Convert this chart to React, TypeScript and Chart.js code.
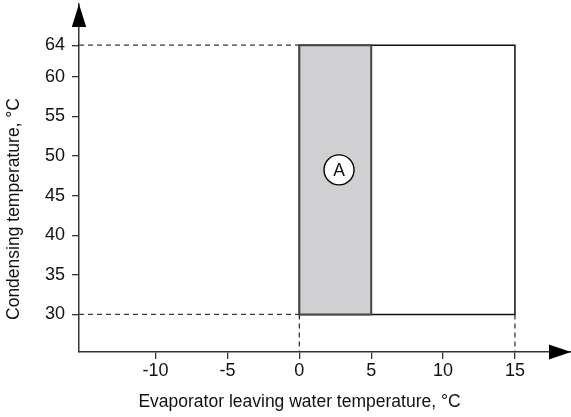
import React, { useEffect, useRef } from "react";
import { Chart, registerables } from "chart.js";

Chart.register(...registerables);

// ---- data ----
const xTicks = [-10, -5, 0, 5, 10, 15];
const yTicks = [30, 35, 40, 45, 50, 55, 60, 64];
const xRange = [-15.33, 18.9];
const yRange = [25.26, 69.2];
const envelopeX = [0, 15];
const envelopeY = [30, 64];
const zoneAX = [0, 5];
const zoneAY = [30, 64];
const zoneALabel = "A";
const zoneALabelPos = [2.76, 48.25];
const xTitle = "Evaporator leaving water temperature, °C";
const yTitle = "Condensing temperature, °C";

const FONT = '"Liberation Sans", Arial, Helvetica, sans-serif';

const rect = (xs: number[], ys: number[]) => [
  { x: xs[0], y: ys[0] },
  { x: xs[1], y: ys[0] },
  { x: xs[1], y: ys[1] },
  { x: xs[0], y: ys[1] },
  { x: xs[0], y: ys[0] },
];

const dashStyle = {
  showLine: true,
  pointRadius: 0,
  borderColor: "#3a3a3a",
  borderWidth: 1.3,
  borderDash: [5, 4],
  fill: false,
};

const zeroPad = (s: any) => {
  s.paddingLeft = 0;
  s.paddingRight = 0;
  s.paddingTop = 0;
  s.paddingBottom = 0;
};

const decorPlugin = {
  id: "decor",
  afterDatasetsDraw(chart: any) {
    const ctx = chart.ctx;
    const pt = chart.getDatasetMeta(0).data[0];
    if (!pt) return;
    ctx.save();
    ctx.font = `17.5px ${FONT}`;
    ctx.fillStyle = "#111";
    ctx.textAlign = "center";
    ctx.textBaseline = "middle";
    ctx.fillText(zoneALabel, pt.x, pt.y + 1);
    ctx.restore();
  },
  afterDraw(chart: any) {
    const { ctx, chartArea } = chart;
    const { left, right, top, bottom } = chartArea;
    ctx.save();
    ctx.fillStyle = "#000";
    // y-axis arrow
    ctx.beginPath();
    ctx.moveTo(left, top);
    ctx.lineTo(left - 7.2, top + 23);
    ctx.lineTo(left + 7.2, top + 23);
    ctx.closePath();
    ctx.fill();
    // x-axis arrow
    ctx.beginPath();
    ctx.moveTo(right, bottom);
    ctx.lineTo(right - 22, bottom - 7.5);
    ctx.lineTo(right - 22, bottom + 7.5);
    ctx.closePath();
    ctx.fill();
    // axis titles
    ctx.font = `17.5px ${FONT}`;
    ctx.fillStyle = "#111";
    ctx.textAlign = "center";
    ctx.textBaseline = "alphabetic";
    ctx.fillText(xTitle, 299.5, 407);
    ctx.translate(19, 209);
    ctx.rotate(-Math.PI / 2);
    ctx.fillText(yTitle, 0, 0);
    ctx.restore();
  },
};

export default function App() {
  const ref = useRef<HTMLCanvasElement>(null);

  useEffect(() => {
    if (!ref.current) return;
    const tickFont = { family: FONT, size: 18 };
    const chart = new Chart(ref.current, {
      type: "scatter",
      data: {
        datasets: [
          {
            label: "A label",
            data: [{ x: zoneALabelPos[0], y: zoneALabelPos[1] }],
            pointRadius: 15,
            pointBorderWidth: 1.4,
            pointBackgroundColor: "#ffffff",
            pointBorderColor: "#000",
            showLine: false,
          },
          {
            label: "Zone A",
            data: rect(zoneAX, zoneAY),
            showLine: true,
            pointRadius: 0,
            borderColor: "#454545",
            borderWidth: 2,
            backgroundColor: "#d0d0d2",
            fill: "shape",
            borderCapStyle: "square",
            borderJoinStyle: "miter",
          } as any,
          {
            label: "Envelope",
            data: rect(envelopeX, envelopeY),
            showLine: true,
            pointRadius: 0,
            borderColor: "#111",
            borderWidth: 1.5,
            fill: false,
            borderCapStyle: "square",
            borderJoinStyle: "miter",
          } as any,
          {
            ...dashStyle,
            data: [
              { x: xRange[0], y: envelopeY[1] },
              { x: envelopeX[0], y: envelopeY[1] },
            ],
          } as any,
          {
            ...dashStyle,
            data: [
              { x: xRange[0], y: envelopeY[0] },
              { x: envelopeX[0], y: envelopeY[0] },
            ],
          } as any,
          {
            ...dashStyle,
            data: [
              { x: envelopeX[0], y: envelopeY[0] },
              { x: envelopeX[0], y: yRange[0] },
            ],
          } as any,
          {
            ...dashStyle,
            data: [
              { x: envelopeX[1], y: envelopeY[0] },
              { x: envelopeX[1], y: yRange[0] },
            ],
          } as any,
        ],
      },
      options: {
        responsive: false,
        animation: false,
        events: [],
        layout: {
          autoPadding: false,
          padding: { top: 4, left: 0, right: 0, bottom: 0 },
        },
        plugins: {
          legend: { display: false },
          tooltip: { enabled: false },
          title: { display: false },
        },
        scales: {
          x: {
            type: "linear",
            position: "bottom",
            min: xRange[0],
            max: xRange[1],
            afterBuildTicks: (s: any) => {
              s.ticks = xTicks.map((v) => ({ value: v }));
            },
            afterFit: (s: any) => {
              s.height = 65;
              zeroPad(s);
            },
            grid: {
              display: true,
              drawOnChartArea: false,
              drawTicks: true,
              tickLength: 7,
              color: "#333",
              lineWidth: 1.3,
            },
            border: { display: true, color: "#333", width: 1.5 },
            ticks: {
              font: tickFont,
              color: "#111",
              padding: 1,
              autoSkip: false,
              maxRotation: 0,
            },
          },
          y: {
            type: "linear",
            position: "left",
            min: yRange[0],
            max: yRange[1],
            afterBuildTicks: (s: any) => {
              s.ticks = yTicks.map((v) => ({ value: v }));
            },
            afterFit: (s: any) => {
              s.width = 79;
              zeroPad(s);
            },
            grid: {
              display: true,
              drawOnChartArea: false,
              drawTicks: true,
              tickLength: 7,
              color: "#333",
              lineWidth: 1.3,
            },
            border: { display: true, color: "#333", width: 1.5 },
            ticks: {
              font: tickFont,
              color: "#111",
              padding: 7,
              autoSkip: false,
            },
          },
        },
      } as any,
      plugins: [decorPlugin],
    });
    return () => chart.destroy();
  }, []);

  return (
    <div style={{ position: "absolute", left: 0, top: 0, width: 571, height: 417 }}>
      <canvas
        ref={ref}
        width={571}
        height={417}
        style={{ display: "block", width: 571, height: 417 }}
      />
    </div>
  );
}
